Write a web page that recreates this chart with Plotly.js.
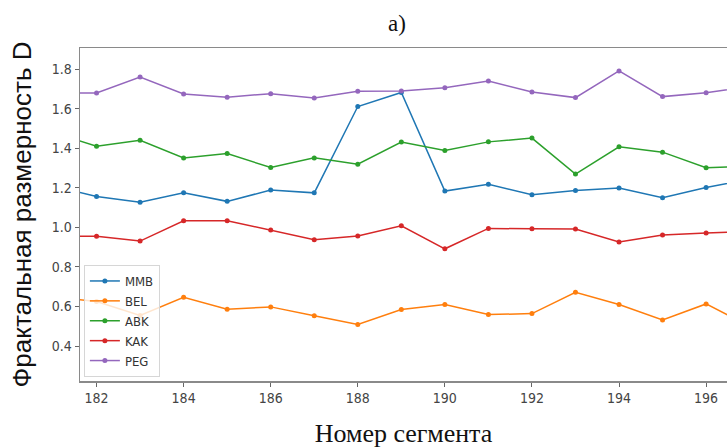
<!DOCTYPE html>
<html>
<head>
<meta charset="utf-8">
<script src="https://cdn.plot.ly/plotly-3.0.1.min.js"></script>
<style>html,body{margin:0;padding:0;background:#fff;}#chart{width:727px;height:448px;}</style>
</head>
<body>
<div id="chart"></div>
<script>
const segments = [181, 182, 183, 184, 185, 186, 187, 188, 189, 190, 191, 192, 193, 194, 195, 196, 197];
const MMB = [1.21, 1.157, 1.128, 1.175, 1.132, 1.189, 1.175, 1.612, 1.683, 1.184, 1.218, 1.165, 1.187, 1.199, 1.150, 1.202, 1.245];
const BEL = [0.65, 0.625, 0.555, 0.647, 0.586, 0.598, 0.553, 0.509, 0.585, 0.610, 0.559, 0.564, 0.672, 0.610, 0.532, 0.613, 0.50];
const ABK = [1.48, 1.411, 1.441, 1.352, 1.374, 1.303, 1.352, 1.320, 1.432, 1.389, 1.433, 1.452, 1.270, 1.408, 1.381, 1.302, 1.31];
const KAK = [0.955, 0.955, 0.931, 1.034, 1.034, 0.987, 0.938, 0.957, 1.008, 0.892, 0.995, 0.993, 0.992, 0.926, 0.962, 0.972, 0.98];
const PEG = [1.68, 1.680, 1.761, 1.675, 1.659, 1.677, 1.655, 1.689, 1.690, 1.707, 1.741, 1.685, 1.657, 1.792, 1.662, 1.682, 1.712];
const xTicks = [182, 184, 186, 188, 190, 192, 194, 196];
const yTicks = [0.4, 0.6, 0.8, 1.0, 1.2, 1.4, 1.6, 1.8];

const series = [
  {name: 'MMB', y: MMB, color: '#1f77b4'},
  {name: 'BEL', y: BEL, color: '#ff7f0e'},
  {name: 'ABK', y: ABK, color: '#2ca02c'},
  {name: 'KAK', y: KAK, color: '#d62728'},
  {name: 'PEG', y: PEG, color: '#9467bd'}
];

const traces = series.map(s => ({
  type: 'scatter',
  mode: 'lines+markers',
  name: s.name,
  x: segments,
  y: s.y,
  line: {color: s.color, width: 1.5},
  marker: {color: s.color, size: 5},
  cliponaxis: true
}));

const tickFont = {family: '"DejaVu Sans Condensed", "DejaVu Sans", sans-serif', size: 14, color: '#444'};

const layout = {
  width: 727,
  height: 448,
  margin: {l: 80, r: 0, t: 48, b: 67, pad: 0},
  paper_bgcolor: '#ffffff',
  plot_bgcolor: '#ffffff',
  showlegend: true,
  title: {
    text: 'а)',
    font: {family: '"Liberation Serif", "Times New Roman", serif', size: 23, color: '#111'},
    x: 0.49, xref: 'paper', y: 0.948, yref: 'container', xanchor: 'center', yanchor: 'middle'
  },
  xaxis: {
    range: [181.62, 196.48],
    tickmode: 'array',
    tickvals: xTicks,
    ticktext: xTicks.map(String),
    ticks: 'outside', ticklen: 4, tickwidth: 1, tickcolor: '#666',
    showline: true, linecolor: '#8a8a8a', linewidth: 1.5, mirror: true,
    showgrid: false, zeroline: false,
    tickfont: tickFont,
    automargin: false,
    title: {
      text: 'Номер сегмента',
      font: {family: '"Liberation Serif", "Times New Roman", serif', size: 26, color: '#111'},
      standoff: 20
    }
  },
  yaxis: {
    range: [0.223, 1.908],
    tickmode: 'array',
    tickvals: yTicks,
    ticktext: yTicks.map(v => v.toFixed(1)),
    ticks: 'outside', ticklen: 4, tickwidth: 1, tickcolor: '#666',
    showline: true, linecolor: '#8a8a8a', linewidth: 1.5, mirror: false,
    showgrid: false, zeroline: false,
    tickfont: tickFont,
    automargin: false,
    title: {
      text: 'Фрактальная размерность D',
      font: {family: '"Liberation Sans", Arial, sans-serif', size: 26, color: '#111'},
      standoff: 12
    }
  },
  legend: {
    x: 0.006, y: 0.012, xanchor: 'left', yanchor: 'bottom',
    bgcolor: 'rgba(255,255,255,0.8)',
    bordercolor: '#d6d6d6', borderwidth: 1,
    font: {family: '"DejaVu Sans Condensed", "DejaVu Sans", sans-serif', size: 13, color: '#333'},
    tracegroupgap: 0,
    itemwidth: 30
  }
};

Plotly.newPlot('chart', traces, layout, {displayModeBar: false, staticPlot: true});
</script>
</body>
</html>
